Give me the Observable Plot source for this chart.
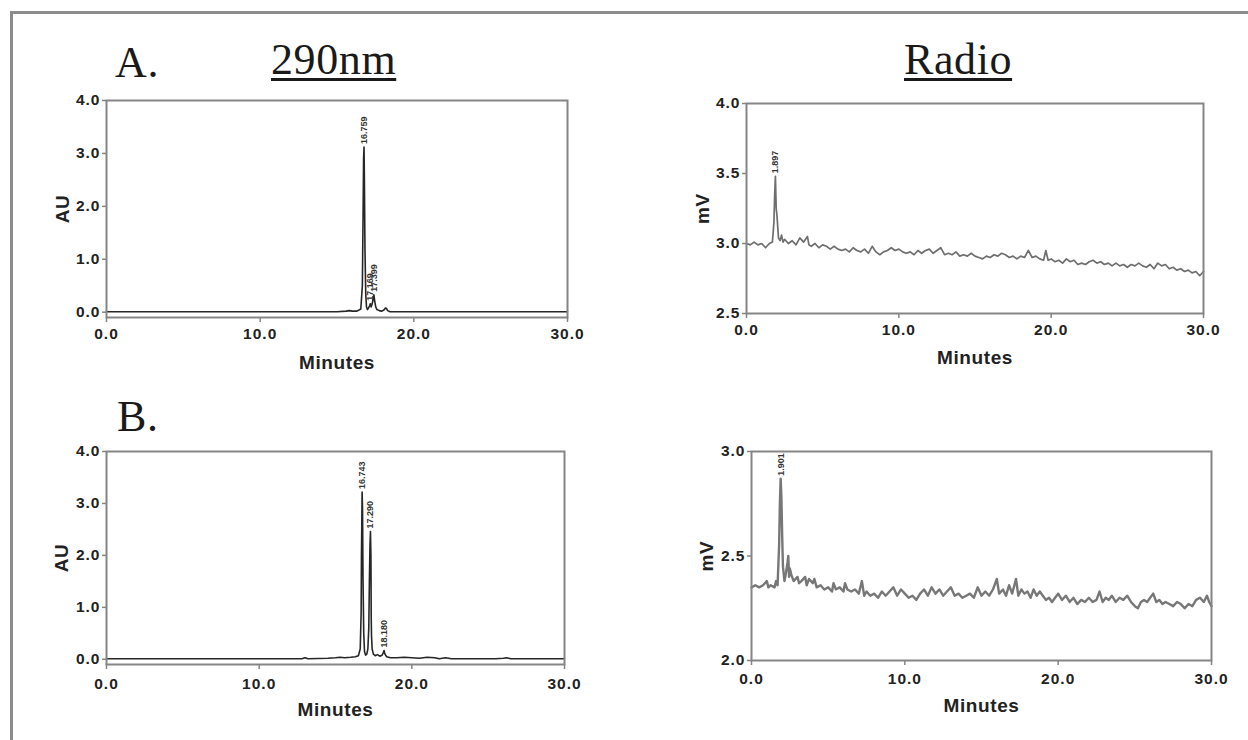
<!DOCTYPE html>
<html><head><meta charset="utf-8">
<script src="https://cdn.jsdelivr.net/npm/d3@7"></script>
<script src="https://cdn.jsdelivr.net/npm/@observablehq/plot@0.6"></script>
<style>
html,body{margin:0;padding:0;background:#fff;}
#page{position:relative;width:1248px;height:740px;overflow:hidden;background:#fff;}
#border{position:absolute;left:10px;top:11px;width:1300px;height:800px;border-left:3px solid #8c8c8c;border-top:3px solid #8c8c8c;}
.ttl{position:absolute;font-family:"Liberation Serif","Times New Roman",serif;font-size:44px;line-height:44px;color:#1a1a1a;letter-spacing:0.6px;white-space:nowrap;}
.ul{text-decoration:underline;text-decoration-thickness:2.5px;text-underline-offset:4px;}
.panel{position:absolute;}
.panel svg{overflow:visible;}
.panel [aria-label="x-axis tick label"], .panel [aria-label="y-axis tick label"]{font-family:"Liberation Sans",Arial,sans-serif;font-weight:bold;font-size:15.5px;letter-spacing:1px;fill:#222;}
.panel [aria-label="x-axis label"], .panel [aria-label="y-axis label"]{font-family:"Liberation Sans",Arial,sans-serif;font-weight:bold;font-size:19px;letter-spacing:0.6px;fill:#222;}
</style>
</head>
<body>
<div id="page">
  <div id="border"></div>
  <div class="ttl" style="left:115px;top:41px;">A.</div>
  <div class="ttl ul" style="left:271px;top:38px;">290nm</div>
  <div class="ttl ul" style="left:904px;top:38px;">Radio</div>
  <div class="ttl" style="left:117px;top:395px;">B.</div>
</div>
<script>
// ---------- shared tick values ----------
const xTicks = [0, 10, 20, 30];
const auTicks = [0, 1, 2, 3, 4];
const mvTicksA = [2.5, 3.0, 3.5, 4.0];
const mvTicksB = [2.0, 2.5, 3.0];

// ---------- A: 290 nm trace (minutes, AU) ----------
const a290T = [0, 5, 10, 15, 15.6, 15.8, 16.0, 16.3, 16.55, 16.65, 16.70, 16.73, 16.759, 16.78, 16.82, 16.87, 16.92, 16.98, 17.05, 17.12, 17.169, 17.22, 17.28, 17.34, 17.399, 17.45, 17.52, 17.6, 17.75, 17.9, 18.05, 18.15, 18.22, 18.3, 18.45, 19, 25, 30];
const a290V = [0.01, 0.01, 0.01, 0.01, 0.02, 0.03, 0.02, 0.02, 0.06, 0.5, 1.9, 2.9, 3.12, 2.6, 1.2, 0.35, 0.1, 0.05, 0.08, 0.12, 0.16, 0.1, 0.15, 0.22, 0.33, 0.22, 0.1, 0.05, 0.03, 0.02, 0.04, 0.08, 0.07, 0.03, 0.01, 0.01, 0.01, 0.01];
const a290PeakT = [16.759, 17.169, 17.399];
const a290PeakV = [3.12, 0.16, 0.33];
const a290PeakLabel = ["16.759", "17.169", "17.399"];

// ---------- B: 290 nm trace ----------
const b290T = [0, 5, 10, 12.8, 13.0, 13.2, 14.5, 15.0, 15.3, 15.6, 16.0, 16.3, 16.5, 16.62, 16.68, 16.70, 16.72, 16.743, 16.77, 16.80, 16.85, 16.9, 16.97, 17.05, 17.12, 17.18, 17.22, 17.26, 17.29, 17.32, 17.34, 17.36, 17.40, 17.48, 17.6, 17.75, 17.9, 18.05, 18.12, 18.18, 18.24, 18.35, 18.6, 19.0, 19.5, 20.0, 20.5, 21.0, 21.5, 21.8, 22.2, 22.6, 23.5, 25.5, 26.0, 26.2, 26.5, 27, 30];
const b290V = [0.01, 0.01, 0.01, 0.01, 0.03, 0.01, 0.02, 0.03, 0.04, 0.03, 0.04, 0.05, 0.07, 0.2, 0.9, 1.98, 2.5, 3.22, 2.9, 1.6, 0.5, 0.15, 0.08, 0.1, 0.2, 0.6, 1.5, 2.2, 2.46, 2.0, 0.8, 0.45, 0.2, 0.1, 0.07, 0.09, 0.06, 0.08, 0.12, 0.17, 0.1, 0.05, 0.03, 0.03, 0.04, 0.03, 0.02, 0.04, 0.03, 0.01, 0.03, 0.01, 0.01, 0.01, 0.02, 0.03, 0.01, 0.01, 0.01];
const b290PeakT = [16.743, 17.290, 18.180];
const b290PeakV = [3.22, 2.46, 0.17];
const b290PeakLabel = ["16.743", "17.290", "18.180"];

// ---------- A: radio trace (minutes, mV) ----------
const aRadT = [0, 0.25, 0.5, 0.75, 1.0, 1.25, 1.5, 1.7, 1.8, 1.85, 1.897, 1.95, 2.0, 2.1, 2.2, 2.3, 2.4, 2.5, 2.75, 3.0, 3.25, 3.5, 3.75, 4.0, 4.1, 4.25, 4.5, 4.75, 5.0, 5.25, 5.5, 5.75, 6.0, 6.25, 6.5, 6.75, 7.0, 7.25, 7.5, 7.75, 8.0, 8.25, 8.5, 8.75, 9.0, 9.25, 9.5, 9.75, 10.0, 10.25, 10.5, 10.75, 11.0, 11.25, 11.5, 11.75, 12.0, 12.25, 12.5, 12.75, 13.0, 13.25, 13.5, 13.75, 14.0, 14.25, 14.5, 14.75, 15.0, 15.25, 15.5, 15.75, 16.0, 16.25, 16.5, 16.75, 17.0, 17.25, 17.5, 17.75, 18.0, 18.25, 18.5, 18.75, 19.0, 19.25, 19.5, 19.65, 19.8, 20.0, 20.25, 20.5, 20.75, 21.0, 21.25, 21.5, 21.75, 22.0, 22.25, 22.5, 22.75, 23.0, 23.25, 23.5, 23.75, 24.0, 24.25, 24.5, 24.75, 25.0, 25.25, 25.5, 25.75, 26.0, 26.25, 26.5, 26.75, 27.0, 27.25, 27.5, 27.75, 28.0, 28.25, 28.5, 28.75, 29.0, 29.25, 29.5, 29.75, 30.0];
const aRadV = [3.00, 2.99, 3.01, 2.99, 3.00, 2.97, 3.00, 3.01, 3.15, 3.35, 3.48, 3.25, 3.20, 3.04, 3.02, 3.06, 3.01, 3.03, 3.00, 3.02, 2.99, 3.04, 3.01, 3.05, 2.99, 2.98, 3.00, 2.97, 2.99, 2.98, 2.96, 2.98, 2.96, 2.95, 2.96, 2.94, 2.97, 2.95, 2.94, 2.96, 2.93, 2.98, 2.94, 2.92, 2.94, 2.95, 2.97, 2.95, 2.96, 2.94, 2.93, 2.94, 2.92, 2.95, 2.93, 2.95, 2.96, 2.93, 2.95, 2.97, 2.92, 2.93, 2.92, 2.94, 2.91, 2.92, 2.91, 2.93, 2.91, 2.90, 2.89, 2.91, 2.90, 2.92, 2.91, 2.93, 2.92, 2.90, 2.91, 2.89, 2.91, 2.90, 2.95, 2.90, 2.91, 2.89, 2.88, 2.95, 2.88, 2.89, 2.87, 2.88, 2.86, 2.89, 2.87, 2.88, 2.85, 2.86, 2.85, 2.87, 2.88, 2.86, 2.87, 2.85, 2.86, 2.84, 2.86, 2.84, 2.85, 2.83, 2.85, 2.84, 2.86, 2.84, 2.83, 2.85, 2.82, 2.86, 2.84, 2.85, 2.82, 2.83, 2.81, 2.82, 2.80, 2.81, 2.79, 2.80, 2.77, 2.80];
const aRadPeakT = [1.897];
const aRadPeakV = [3.48];
const aRadPeakLabel = ["1.897"];

// ---------- B: radio trace ----------
const bRadT = [0, 0.25, 0.5, 0.75, 1.0, 1.1, 1.25, 1.5, 1.6, 1.7, 1.8, 1.85, 1.901, 1.95, 2.0, 2.05, 2.15, 2.25, 2.35, 2.4, 2.45, 2.5, 2.6, 2.75, 3.0, 3.1, 3.25, 3.5, 3.6, 3.75, 4.0, 4.1, 4.25, 4.5, 4.75, 5.0, 5.25, 5.35, 5.5, 5.75, 6.0, 6.1, 6.25, 6.5, 6.75, 7.0, 7.2, 7.35, 7.5, 7.75, 8.0, 8.25, 8.5, 8.75, 9.0, 9.25, 9.5, 9.75, 10.0, 10.25, 10.5, 10.75, 11.0, 11.25, 11.5, 11.75, 12.0, 12.25, 12.5, 12.75, 13.0, 13.25, 13.5, 13.75, 14.0, 14.25, 14.5, 14.75, 15.0, 15.25, 15.5, 15.75, 16.0, 16.15, 16.4, 16.6, 16.8, 17.0, 17.25, 17.4, 17.6, 17.8, 18.0, 18.2, 18.4, 18.6, 18.8, 19.0, 19.2, 19.4, 19.6, 19.8, 20.0, 20.25, 20.5, 20.75, 21.0, 21.25, 21.5, 21.75, 22.0, 22.25, 22.5, 22.7, 22.9, 23.1, 23.3, 23.5, 23.75, 24.0, 24.25, 24.5, 24.75, 25.0, 25.2, 25.4, 25.6, 25.8, 26.0, 26.2, 26.4, 26.6, 26.8, 27.0, 27.25, 27.5, 27.75, 28.0, 28.25, 28.5, 28.75, 29.0, 29.25, 29.5, 29.7, 29.85, 30.0];
const bRadV = [2.35, 2.36, 2.35, 2.36, 2.38, 2.35, 2.36, 2.35, 2.38, 2.36, 2.55, 2.75, 2.87, 2.78, 2.60, 2.45, 2.38, 2.42, 2.47, 2.50, 2.40, 2.44, 2.41, 2.38, 2.40, 2.37, 2.38, 2.40, 2.36, 2.39, 2.37, 2.39, 2.35, 2.36, 2.34, 2.35, 2.33, 2.37, 2.34, 2.35, 2.33, 2.37, 2.34, 2.33, 2.34, 2.32, 2.38, 2.31, 2.33, 2.31, 2.32, 2.30, 2.33, 2.31, 2.33, 2.35, 2.31, 2.34, 2.32, 2.30, 2.31, 2.29, 2.32, 2.34, 2.31, 2.35, 2.32, 2.34, 2.31, 2.33, 2.35, 2.31, 2.32, 2.30, 2.31, 2.32, 2.30, 2.35, 2.31, 2.33, 2.31, 2.34, 2.39, 2.32, 2.34, 2.31, 2.36, 2.32, 2.39, 2.31, 2.34, 2.32, 2.33, 2.30, 2.34, 2.31, 2.33, 2.31, 2.29, 2.30, 2.28, 2.30, 2.32, 2.29, 2.31, 2.28, 2.30, 2.27, 2.29, 2.28, 2.30, 2.28, 2.29, 2.33, 2.28, 2.30, 2.29, 2.31, 2.28, 2.30, 2.29, 2.31, 2.28, 2.26, 2.25, 2.28, 2.29, 2.28, 2.30, 2.32, 2.28, 2.29, 2.27, 2.28, 2.27, 2.26, 2.28, 2.27, 2.25, 2.27, 2.26, 2.29, 2.30, 2.28, 2.31, 2.28, 2.26];
const bRadPeakT = [1.901];
const bRadPeakV = [2.87];
const bRadPeakLabel = ["1.901"];

const fmt = d3.format(".1f");

const panels = [
  {left:106, right:567, top:100, bottom:317, yDomain:[-0.1, 4], yTicks:auTicks, ylab:"AU", t:a290T, v:a290V, pt:a290PeakT, pv:a290PeakV, pl:a290PeakLabel, stroke:"#262626", sw:1.6, xpad:5, xlo:51, ylo:51},
  {left:746, right:1203, top:103, bottom:313, yDomain:[2.5, 4], yTicks:mvTicksA, ylab:"mV", t:aRadT, v:aRadV, pt:aRadPeakT, pv:aRadPeakV, pl:aRadPeakLabel, stroke:"#6e6e6e", sw:1.7, xpad:5, xlo:50, ylo:51},
  {left:106, right:564, top:451, bottom:664, yDomain:[-0.1, 4], yTicks:auTicks, ylab:"AU", t:b290T, v:b290V, pt:b290PeakT, pv:b290PeakV, pl:b290PeakLabel, stroke:"#262626", sw:1.6, xpad:8, xlo:51, ylo:52},
  {left:751, right:1211, top:451, bottom:660, yDomain:[2, 3], yTicks:mvTicksB, ylab:"mV", t:bRadT, v:bRadV, pt:bRadPeakT, pv:bRadPeakV, pl:bRadPeakLabel, stroke:"#777777", sw:2.4, xpad:7, xlo:51, ylo:52}
];

const page = document.getElementById("page");
const ML = 70, MT = 14, MR = 30, MB = 56;
for (const p of panels) {
  const data = p.t.map((t, i) => ({t, v: p.v[i]}));
  const peaks = p.pt.map((t, i) => ({t, v: p.pv[i], label: p.pl[i]}));
  const chart = Plot.plot({
    width: ML + (p.right - p.left) + MR,
    height: MT + (p.bottom - p.top) + MB,
    marginLeft: ML, marginRight: MR, marginTop: MT, marginBottom: MB,
    style: {background: "transparent", color: "#222"},
    x: {domain: [0, 30]},
    y: {domain: p.yDomain},
    marks: [
      Plot.line(data, {x: "t", y: "v", stroke: p.stroke, strokeWidth: p.sw}),
      Plot.text(peaks, {x: "t", y: "v", text: "label", rotate: -90, textAnchor: "start", lineAnchor: "middle", dy: -3, fontSize: 9, fontWeight: "bold", fill: "#333", fontFamily: "Liberation Sans, Arial, sans-serif"}),
      Plot.frame({stroke: "#858585", strokeWidth: 2}),
      Plot.axisX({ticks: xTicks, tickFormat: fmt, tickSize: 5, tickPadding: p.xpad, stroke: "#858585", strokeWidth: 1.5, label: "Minutes", labelAnchor: "center", labelOffset: p.xlo, labelArrow: "none"}),
      Plot.axisY({ticks: p.yTicks, tickFormat: fmt, tickSize: 4, tickPadding: 2, stroke: "#858585", strokeWidth: 1.5, label: p.ylab, labelAnchor: "center", labelOffset: p.ylo, labelArrow: "none"})
    ]
  });
  const wrap = document.createElement("div");
  wrap.className = "panel";
  wrap.style.left = (p.left - ML) + "px";
  wrap.style.top = (p.top - MT) + "px";
  wrap.appendChild(chart);
  page.appendChild(wrap);
}
</script>
</body></html>
